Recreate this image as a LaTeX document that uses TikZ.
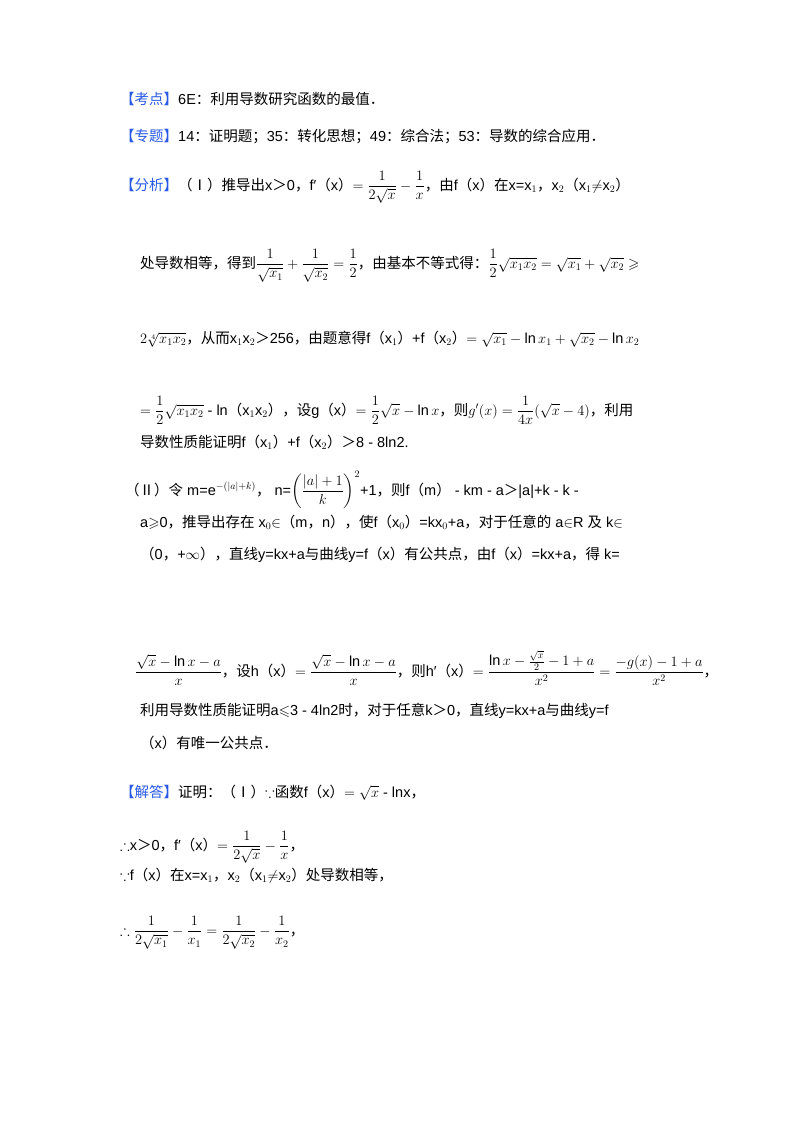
\documentclass[tikz,border=0pt]{standalone}
\usepackage{fontspec}
\usepackage{amsmath,amssymb}
\setmainfont{Liberation Sans}
\newfontfamily\cjk{Noto Sans CJK SC}
\definecolor{lblue}{RGB}{40,90,230}
\newcommand{\C}[1]{{\cjk #1}}
\newcommand{\B}[1]{{\color{lblue}\cjk 【#1】}}
\begin{document}
\begin{tikzpicture}[x=1pt,y=-1pt,every node/.style={anchor=base west,inner sep=0pt,font=\fontsize{14.5}{17}\selectfont}]
\useasboundingbox (0,0) rectangle (800,1132);
\fill[white] (0,0) rectangle (800,1132);
\node (l1) at (120,104) {\B{考点}6E\C{：利用导数研究函数的最值．}};
\node (l2) at (120,141) {\B{专题}14\C{：证明题；}35\C{：转化思想；}49\C{：综合法；}53\C{：导数的综合应用．}};
\node (l3) at (120,190) {\B{分析}\C{（Ⅰ）推导出}x\C{＞}0\C{，}f′\C{（}x\C{）}$=\dfrac{1}{2\sqrt{x}}-\dfrac{1}{x}$\C{，由}f\C{（}x\C{）在}x=x$_1$\C{，}x$_2$\C{（}x$_1{\neq}$x$_2$\C{）}};
\node (l4) at (140,268) {\C{处导数相等，得到}$\dfrac{1}{\sqrt{x_1}}+\dfrac{1}{\sqrt{x_2}}=\dfrac12$\C{，由基本不等式得：}$\dfrac12\sqrt{x_1x_2}=\sqrt{x_1}+\sqrt{x_2}\geqslant$};
\node (l5) at (140,343) {$2\sqrt[4]{x_1x_2}$\C{，从而}x$_1$x$_2$\C{＞}256\C{，由题意得}f\C{（}x$_1$\C{）}+f\C{（}x$_2$\C{）}$=\sqrt{x_1}-\ln x_1+\sqrt{x_2}-\ln x_2$};
\node (l6) at (140,415) {$=\dfrac12\sqrt{x_1x_2}$ - ln\C{（}x$_1$x$_2$\C{），设}g\C{（}x\C{）}$=\dfrac12\sqrt{x}-\ln x$\C{，则}$g'(x)=\dfrac{1}{4x}(\sqrt{x}-4)$\C{，利用}};
\node (l7) at (140,447) {\C{导数性质能证明}f\C{（}x$_1$\C{）}+f\C{（}x$_2$\C{）}\C{＞}8 - 8ln2.};
\node (l8) at (125,495) {\C{（Ⅱ）令} m=e$^{-(|a|+k)}$\C{，} n=$\left(\dfrac{|a|+1}{k}\right)^2$+1\C{，则}f\C{（}m\C{）} - km - a\C{＞}|a|+k - k -};
\node (l9) at (140,527) {a$\geqslant$0\C{，推导出存在} x$_0{\in}$\C{（}m\C{，}n\C{），使}f\C{（}x$_0$\C{）}=kx$_0$+a\C{，对于任意的} a${\in}$R \C{及} k${\in}$};
\node (l10) at (140,559) {\C{（}0\C{，}+$\infty$\C{），直线}y=kx+a\C{与曲线}y=f\C{（}x\C{）有公共点，由}f\C{（}x\C{）}=kx+a\C{，得} k=};
\node (l11) at (135,676) {$\dfrac{\sqrt{x}-\ln x-a}{x}$\C{，设}h\C{（}x\C{）}$=\dfrac{\sqrt{x}-\ln x-a}{x}$\C{，则}h′\C{（}x\C{）}$=\dfrac{\ln x-\frac{\sqrt{x}}{2}-1+a}{x^2}=\dfrac{-g(x)-1+a}{x^2}$\C{，}};
\node (l12) at (140,715) {\C{利用导数性质能证明}a$\leqslant$3 - 4ln2\C{时，对于任意}k\C{＞}0\C{，直线}y=kx+a\C{与曲线}y=f};
\node (l13) at (140,748) {\C{（}x\C{）有唯一公共点．}};
\node (l14) at (120,797) {\B{解答}\C{证明：（Ⅰ）}$\because$\C{函数}f\C{（}x\C{）}$=\sqrt{x}$ - lnx\C{，}};
\node (l15) at (120,850) {$\therefore$x\C{＞}0\C{，}f′\C{（}x\C{）}$=\dfrac{1}{2\sqrt{x}}-\dfrac1x$\C{，}};
\node (l16) at (120,880) {$\because$f\C{（}x\C{）在}x=x$_1$\C{，}x$_2$\C{（}x$_1{\neq}$x$_2$\C{）处导数相等，}};
\node (l17) at (120,935) {$\therefore\dfrac{1}{2\sqrt{x_1}}-\dfrac{1}{x_1}=\dfrac{1}{2\sqrt{x_2}}-\dfrac{1}{x_2}$\C{，}};
\end{tikzpicture}
\end{document}
